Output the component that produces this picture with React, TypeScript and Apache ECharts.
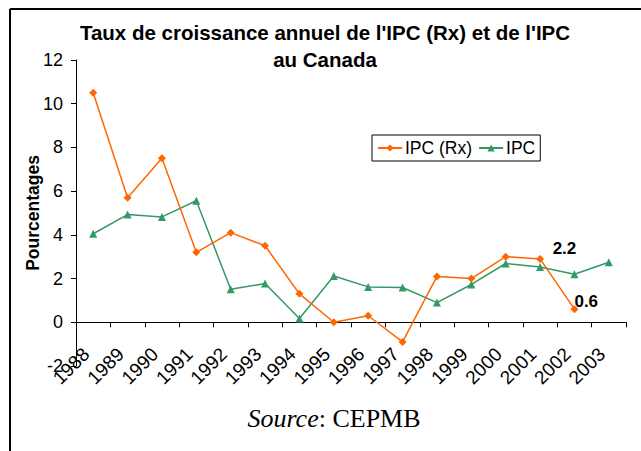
import React, { useEffect, useRef } from "react";
import * as echarts from "echarts";

const years = ["1988", "1989", "1990", "1991", "1992", "1993", "1994", "1995", "1996", "1997", "1998", "1999", "2000", "2001", "2002", "2003"];
const ipcRx = [10.5, 5.7, 7.5, 3.2, 4.1, 3.5, 1.3, 0.0, 0.3, -0.9, 2.1, 2.0, 3.0, 2.9, 0.6, null];
const ipc = [4.05, 4.93, 4.82, 5.56, 1.51, 1.77, 0.17, 2.12, 1.62, 1.59, 0.9, 1.73, 2.69, 2.53, 2.2, 2.75];
const yTicks = { min: -2, max: 12, interval: 2 };

const SANS = "'Liberation Sans', Arial, sans-serif";
const SERIF = "'Liberation Serif', 'Times New Roman', serif";

export default function App() {
  const ref = useRef<HTMLDivElement>(null);
  useEffect(() => {
    if (!ref.current) return;
    const chart = echarts.init(ref.current, null, { renderer: "svg" });
    const lastRx = ipcRx.length - 2;
    const lastIpc = ipc.length - 2;
    chart.setOption({
      animation: false,
      backgroundColor: "#fff",
      title: {
        text: "Taux de croissance annuel de l'IPC (Rx) et de l'IPC\nau Canada",
        left: 325,
        top: 19,
        padding: 0,
        textAlign: "center",
        textStyle: { fontFamily: SANS, fontSize: 20.5, fontWeight: "bold", color: "#000", lineHeight: 27 },
      },
      legend: {
        left: 372,
        top: 135,
        padding: [4, 5],
        itemGap: 6,
        itemWidth: 24,
        itemHeight: 9,
        borderColor: "#000",
        borderWidth: 1,
        textStyle: { fontFamily: SANS, fontSize: 17.5, color: "#000", padding: [0, 0, 0, -2] },
        data: ["IPC (Rx)", "IPC"],
      },
      grid: { left: 76, right: 15, top: 60, bottom: 85 },
      xAxis: {
        type: "category",
        data: years,
        boundaryGap: true,
        axisLine: { onZero: true, lineStyle: { color: "#000", width: 1 } },
        axisTick: { show: true, length: 5, lineStyle: { color: "#000" } },
        axisLabel: { interval: 0, rotate: 45, margin: -22, fontFamily: SANS, fontSize: 19, color: "#000", padding: [0, 10, 0, 0] },
        splitLine: { show: false },
      },
      yAxis: {
        type: "value",
        min: yTicks.min,
        max: yTicks.max,
        interval: yTicks.interval,
        axisLine: { show: true, onZero: false, lineStyle: { color: "#000", width: 1 } },
        axisTick: { show: true, length: 5, lineStyle: { color: "#000" } },
        axisLabel: { margin: 13, fontFamily: SANS, fontSize: 18, color: "#000" },
        splitLine: { show: false },
      },
      series: [
        {
          name: "IPC (Rx)",
          type: "line",
          data: ipcRx.map((v, i) =>
            i === lastRx
              ? {
                  value: v,
                  label: {
                    show: true,
                    position: "right",
                    distance: 0,
                    offset: [-4, -8],
                    formatter: "0.6",
                    fontFamily: SANS,
                    fontSize: 17,
                    fontWeight: "bold",
                    color: "#000",
                  },
                }
              : v
          ),
          symbol: "diamond",
          symbolSize: 8,
          itemStyle: { color: "#FF6600" },
          lineStyle: { color: "#FF6600", width: 1.5 },
          z: 3,
        },
        {
          name: "IPC",
          type: "line",
          data: ipc.map((v, i) =>
            i === lastIpc
              ? {
                  value: v,
                  label: {
                    show: true,
                    position: "top",
                    distance: 5,
                    offset: [-10, -8],
                    formatter: "2.2",
                    fontFamily: SANS,
                    fontSize: 17,
                    fontWeight: "bold",
                    color: "#000",
                  },
                }
              : v
          ),
          symbol: "triangle",
          symbolSize: 8,
          itemStyle: { color: "#339966" },
          lineStyle: { color: "#339966", width: 1.5 },
          z: 2,
        },
      ],
      graphic: [
        { type: "line", shape: { x1: 10, y1: 9, x2: 641, y2: 9 }, style: { stroke: "#000", lineWidth: 2 } },
        { type: "line", shape: { x1: 10, y1: 9, x2: 10, y2: 451 }, style: { stroke: "#000", lineWidth: 2 } },
        {
          type: "text",
          x: 33,
          y: 213,
          rotation: Math.PI / 2,
          style: {
            text: "Pourcentages",
            fontFamily: SANS,
            fontSize: 17.5,
            fontWeight: "bold",
            fill: "#000",
            align: "center",
            verticalAlign: "middle",
          },
        },
        {
          type: "text",
          x: 334,
          y: 418,
          style: {
            text: "{i|Source}: CEPMB",
            fontFamily: SERIF,
            fontSize: 26,
            fill: "#000",
            align: "center",
            verticalAlign: "middle",
            rich: { i: { fontFamily: SERIF, fontSize: 26, fontStyle: "italic", fill: "#000" } },
          },
        },
      ],
    });
    return () => chart.dispose();
  }, []);
  return <div ref={ref} style={{ position: "fixed", left: 0, top: 0, width: 641, height: 451 }} />;
}
